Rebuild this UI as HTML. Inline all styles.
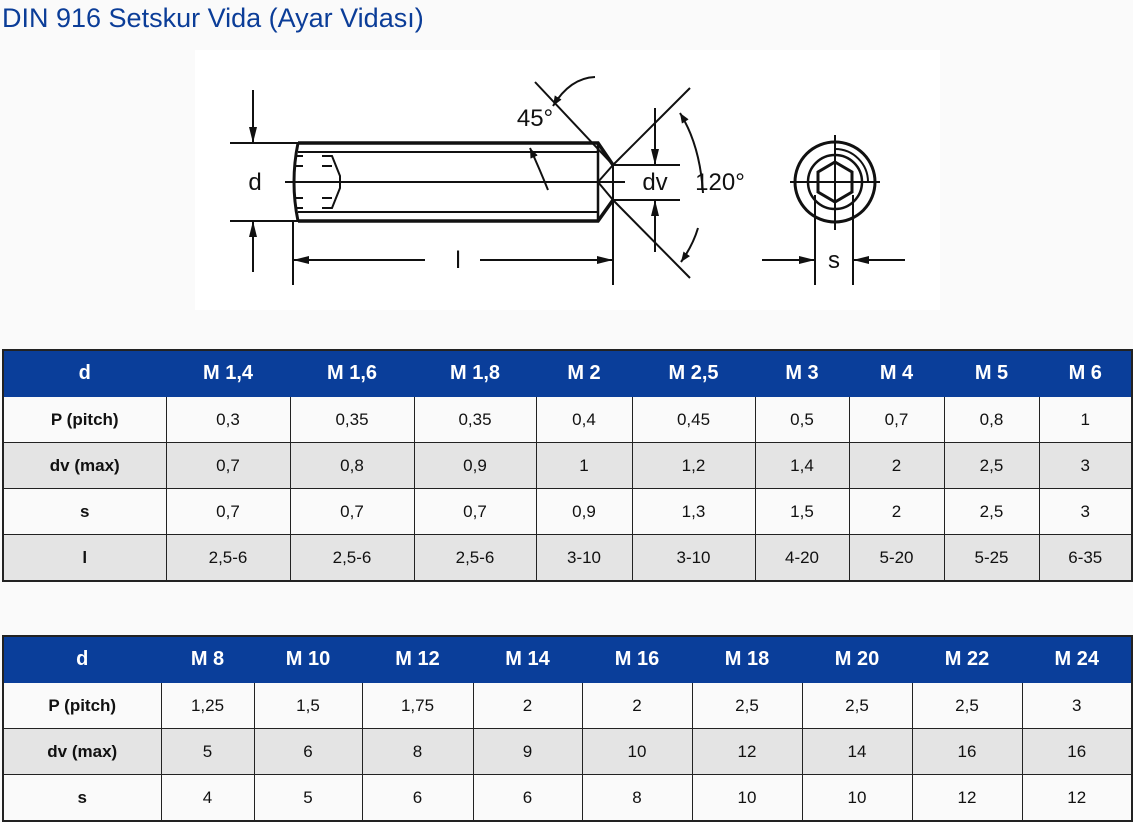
<!DOCTYPE html>
<html><head><meta charset="utf-8"><style>
body{margin:0;width:1133px;height:820px;background:#fafafa;position:relative;overflow:hidden;font-family:"Liberation Sans",sans-serif}
.title{position:absolute;left:2px;top:3px;font-size:27px;color:#0b3d98;white-space:nowrap}
.dia{position:absolute;left:195px;top:50px;width:745px;height:260px;background:#fff}
table{position:absolute;left:2px;width:1131px;border-collapse:collapse;table-layout:fixed;font-size:17px;color:#111}
td{border:1px solid #222;text-align:center;height:45px;padding:0}
tr.h td{background:#0a3e9a;color:#fff;font-weight:bold;font-size:20px;border-color:#0a3e9a}
tr.g td{background:#e4e4e4}
td.b{font-weight:bold}
table{border:2px solid #222}
</style></head><body>
<div class="title">DIN 916 Setskur Vida (Ayar Vidası)</div>
<div class="dia">
<svg width="745" height="260" viewBox="195 50 745 260" xmlns="http://www.w3.org/2000/svg" font-family="Liberation Sans, sans-serif">
<defs><marker id="a" markerWidth="10" markerHeight="8" refX="10" refY="4" orient="auto" markerUnits="userSpaceOnUse"><path d="M0,0 L10,4 L0,8 z" fill="#111"/></marker>
<marker id="b" markerWidth="16" markerHeight="8" refX="16" refY="4" orient="auto" markerUnits="userSpaceOnUse"><path d="M0,0 L16,4 L0,8 z" fill="#111"/></marker></defs>
<g stroke="#111" fill="none" stroke-width="2">
<line x1="230" y1="143" x2="300" y2="143"/><line x1="230" y1="221" x2="300" y2="221"/>
<path d="M298,143 L598,143 L613,165 M298,221 L598,221 L613,200" stroke-width="3.5"/>
<path d="M298,143 Q290,182 298,221" stroke-width="3"/>
<line x1="298" y1="152" x2="598" y2="152"/><line x1="298" y1="212" x2="598" y2="212"/>
<line x1="598" y1="143" x2="598" y2="221" stroke-width="2.5"/>
<path d="M613,165 L598,182 L613,200"/>
<line x1="285" y1="182" x2="625" y2="182"/>
<line x1="613" y1="165" x2="613" y2="285"/><line x1="293" y1="221" x2="293" y2="285"/>
<path d="M295,156h8M295,166h8M295,198h8M295,208h8M322,156h10l8,20v12l-8,20h-10M322,166h10M322,198h10"/>
<line x1="535" y1="82" x2="613" y2="165"/>
<line x1="690" y1="88" x2="613" y2="165"/><line x1="613" y1="200" x2="690" y2="278"/>
<line x1="613" y1="165" x2="680" y2="165"/><line x1="613" y1="200" x2="680" y2="200"/>
<line x1="655" y1="108" x2="655" y2="165" marker-end="url(#b)"/>
<line x1="655" y1="252" x2="655" y2="200" marker-end="url(#b)"/>
<line x1="253" y1="90" x2="253" y2="143" marker-end="url(#b)"/>
<line x1="253" y1="272" x2="253" y2="221" marker-end="url(#b)"/>
<line x1="425" y1="260" x2="293" y2="260" marker-end="url(#b)"/>
<line x1="480" y1="260" x2="613" y2="260" marker-end="url(#b)"/>
<path d="M595,77 Q570,78 553,106" marker-end="url(#a)"/>
<path d="M548,190 Q540,170 530,148" marker-end="url(#a)"/>
<path d="M703,193 Q700,145 680,113" marker-end="url(#a)"/>
<path d="M698,228 Q693,245 681,262" marker-end="url(#a)"/>
<circle cx="835" cy="182" r="40" stroke-width="3"/>
<path d="M835,149 A33,33 0 0 1 868,182"/>
<circle cx="835" cy="182" r="27" stroke-width="2.5"/>
<polygon points="835,162 852,172 852,192 835,202 818,192 818,172" stroke-width="3"/>
<line x1="790" y1="182" x2="880" y2="182"/><line x1="835" y1="135" x2="835" y2="230"/>
<line x1="815" y1="195" x2="815" y2="285"/><line x1="853" y1="195" x2="853" y2="285"/>
<line x1="762" y1="260" x2="815" y2="260" marker-end="url(#b)"/>
<line x1="905" y1="260" x2="853" y2="260" marker-end="url(#b)"/>
</g>
<g fill="#111" font-size="24">
<text x="255" y="190" text-anchor="middle">d</text>
<text x="655" y="190" text-anchor="middle">dv</text>
<text x="720" y="190" text-anchor="middle">120°</text>
<text x="535" y="126" text-anchor="middle">45°</text>
<text x="458" y="268" text-anchor="middle">l</text>
<text x="834" y="268" text-anchor="middle">s</text>
</g>
</svg>
</div>
<table style="top:349px">
<colgroup><col style="width:163px"><col style="width:124px"><col style="width:124px"><col style="width:122px"><col style="width:96px"><col style="width:123px"><col style="width:94px"><col style="width:95px"><col style="width:95px"><col></colgroup>
<tr class="h"><td>d</td><td>M 1,4</td><td>M 1,6</td><td>M 1,8</td><td>M 2</td><td>M 2,5</td><td>M 3</td><td>M 4</td><td>M 5</td><td>M 6</td></tr>
<tr><td class="b">P (pitch)</td><td>0,3</td><td>0,35</td><td>0,35</td><td>0,4</td><td>0,45</td><td>0,5</td><td>0,7</td><td>0,8</td><td>1</td></tr>
<tr class="g"><td class="b">dv (max)</td><td>0,7</td><td>0,8</td><td>0,9</td><td>1</td><td>1,2</td><td>1,4</td><td>2</td><td>2,5</td><td>3</td></tr>
<tr><td class="b">s</td><td>0,7</td><td>0,7</td><td>0,7</td><td>0,9</td><td>1,3</td><td>1,5</td><td>2</td><td>2,5</td><td>3</td></tr>
<tr class="g"><td class="b">l</td><td>2,5-6</td><td>2,5-6</td><td>2,5-6</td><td>3-10</td><td>3-10</td><td>4-20</td><td>5-20</td><td>5-25</td><td>6-35</td></tr>
</table>
<table style="top:635px">
<colgroup><col style="width:158px"><col style="width:93px"><col style="width:108px"><col style="width:111px"><col style="width:109px"><col style="width:110px"><col style="width:110px"><col style="width:110px"><col style="width:110px"><col></colgroup>
<tr class="h"><td>d</td><td>M 8</td><td>M 10</td><td>M 12</td><td>M 14</td><td>M 16</td><td>M 18</td><td>M 20</td><td>M 22</td><td>M 24</td></tr>
<tr><td class="b">P (pitch)</td><td>1,25</td><td>1,5</td><td>1,75</td><td>2</td><td>2</td><td>2,5</td><td>2,5</td><td>2,5</td><td>3</td></tr>
<tr class="g"><td class="b">dv (max)</td><td>5</td><td>6</td><td>8</td><td>9</td><td>10</td><td>12</td><td>14</td><td>16</td><td>16</td></tr>
<tr><td class="b">s</td><td>4</td><td>5</td><td>6</td><td>6</td><td>8</td><td>10</td><td>10</td><td>12</td><td>12</td></tr>
</table>
</body></html>
